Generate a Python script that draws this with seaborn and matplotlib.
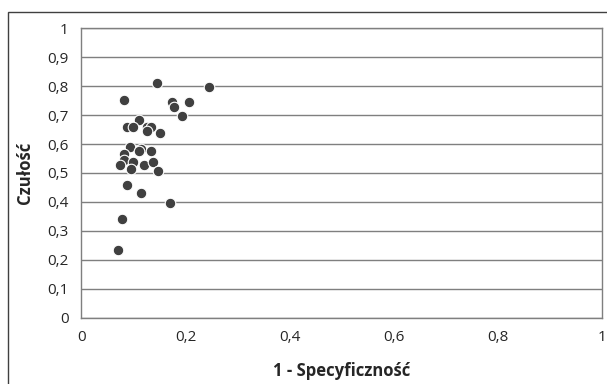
import matplotlib
matplotlib.use("Agg")
import matplotlib.pyplot as plt
import seaborn as sns
import pandas as pd
from matplotlib.patches import Rectangle

# 1 - specyficzność, czułość
fpr = [0.145, 0.245, 0.082, 0.175, 0.206, 0.178, 0.193, 0.111, 0.087, 0.099,
       0.126, 0.134, 0.126, 0.151, 0.094, 0.114, 0.111, 0.134, 0.081, 0.082,
       0.074, 0.099, 0.095, 0.120, 0.138, 0.147, 0.087, 0.114, 0.170, 0.079,
       0.070]
tpr = [0.810, 0.795, 0.753, 0.745, 0.745, 0.726, 0.697, 0.684, 0.657, 0.657,
       0.657, 0.657, 0.646, 0.637, 0.591, 0.583, 0.575, 0.576, 0.566, 0.545,
       0.527, 0.537, 0.515, 0.527, 0.537, 0.507, 0.459, 0.430, 0.397, 0.340,
       0.235]
xticks = [0, 0.2, 0.4, 0.6, 0.8, 1]
yticks = [0, 0.1, 0.2, 0.3, 0.4, 0.5, 0.6, 0.7, 0.8, 0.9, 1]

df = pd.DataFrame({"x": fpr, "y": tpr})

sns.set_style("white")
plt.rcParams["font.family"] = ["Open Sans", "DejaVu Sans"]

fig = plt.figure(figsize=(6.07, 3.84), dpi=100)
ax = fig.add_axes([0.134, 0.172, 0.858, 0.755])

sns.scatterplot(data=df, x="x", y="y", ax=ax, s=58, color="#404040",
                edgecolor="white", linewidth=0.8, zorder=3)

ax.set_xlim(0, 1)
ax.set_ylim(0, 1)
ax.set_xticks(xticks)
ax.set_yticks(yticks)
fmt = lambda v: ("%g" % v).replace(".", ",")
ax.set_xticklabels([fmt(v) for v in xticks], fontsize=11)
ax.set_yticklabels([fmt(v) for v in yticks], fontsize=11)
ax.tick_params(length=0, pad=9)
ax.yaxis.grid(True, color="#7f7f7f", linewidth=1)
ax.set_axisbelow(True)
for sp in ax.spines.values():
    sp.set_color("#7f7f7f")
    sp.set_linewidth(1)

ax.set_xlabel("1 - Specyficzność", fontsize=12, fontweight="bold", labelpad=12)
ax.set_ylabel("Czułość", fontsize=12, fontweight="bold", labelpad=10)

fig.patches.append(Rectangle((0.013, -0.01), 1.0, 0.98, transform=fig.transFigure,
                             fill=False, edgecolor="#404040", linewidth=1))

fig.savefig("out.png", dpi=100)
